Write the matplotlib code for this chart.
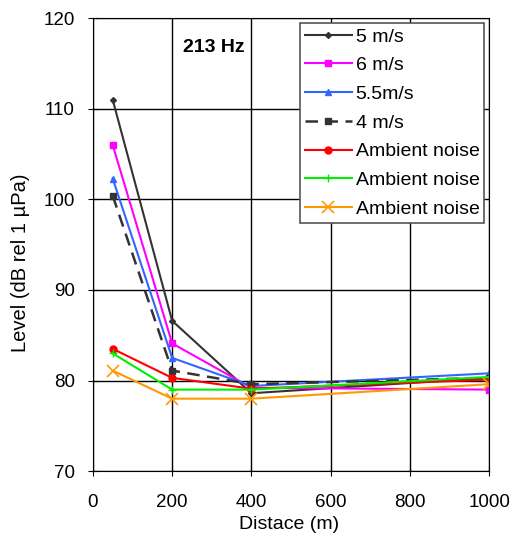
import matplotlib.pyplot as plt
import numpy as np

plt.rcParams['font.family'] = ['Liberation Sans', 'DejaVu Sans']

dist = [50, 200, 400, 1000]
s5 = [111.0, 86.6, 78.6, 80.3]
s6 = [106.0, 84.1, 79.2, 79.0]
s55 = [102.3, 82.5, 79.4, 80.8]
s4 = [100.4, 81.1, 79.6, 80.3]
amb1 = [83.5, 80.3, 79.1, 80.1]
amb2 = [83.0, 79.0, 79.0, 80.4]
amb3 = [81.1, 78.0, 78.0, 79.6]

fig = plt.figure(figsize=(5.16, 5.36), dpi=100)
ax = fig.add_axes([0.180, 0.121, 0.768, 0.845])

ax.plot(dist, s5, color="#333333", marker="D", ms=3, lw=1.5, label="5 m/s")
ax.plot(dist, s6, color="#ff00ff", marker="s", ms=5, lw=1.5, label="6 m/s")
ax.plot(dist, s55, color="#3366ff", marker="^", ms=5, lw=1.5, label="5.5m/s")
ax.plot(dist, s4, color="#333333", marker="s", ms=5, lw=1.8, ls=(0, (5, 3)), label="4 m/s")
ax.plot(dist, amb1, color="#ff0000", marker="o", ms=5, lw=1.5, label="Ambient noise")
ax.plot(dist, amb2, color="#00ee00", marker="+", ms=6, lw=1.5, label="Ambient noise")
ax.plot(dist, amb3, color="#ff9900", marker="x", ms=8, mew=1.2, lw=1.5, label="Ambient noise")

ax.set_xlim(0, 1000)
ax.set_ylim(70, 120)
ax.set_xticks(np.arange(0, 1001, 200))
ax.set_yticks(np.arange(70, 121, 10))
ax.grid(True, color="black", lw=1)
ax.tick_params(labelsize=13.5, direction="inout", length=7)
ax.tick_params(axis="x", pad=13)
ax.tick_params(axis="y", pad=9.5)
ax.set_xlabel("Distace (m)", fontsize=14)
ax.set_ylabel("Level (dB rel 1 \u00b5Pa)", fontsize=14.5)
ax.xaxis.set_label_coords(0.495, -0.098)
ax.yaxis.set_label_coords(-0.159, 0.461)
ax.text(0.228, 0.935, "213 Hz", transform=ax.transAxes, fontsize=14,
        fontweight="bold", va="center")

leg = ax.legend(loc="upper right", fontsize=14, frameon=True, fancybox=False,
                edgecolor="#555555", framealpha=1, handlelength=2.4,
                borderpad=0.25, labelspacing=0.57, handletextpad=0.2,
                borderaxespad=0.25)
leg.get_frame().set_linewidth(1.2)

fig.savefig("out.png", dpi=100)
